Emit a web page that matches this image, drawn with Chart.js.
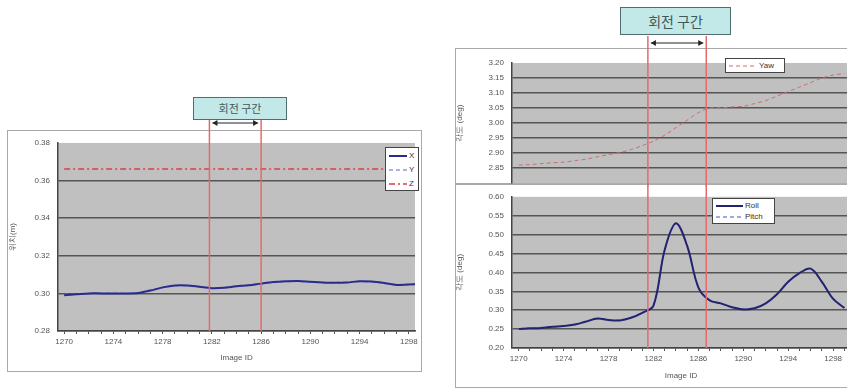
<!DOCTYPE html>
<html>
<head>
<meta charset="utf-8">
<script src="https://cdn.jsdelivr.net/npm/chart.js@4.4.1/dist/chart.umd.min.js"></script>
<style>
  body { margin: 0; width: 847px; height: 389px; overflow: hidden; background: #fff; position: relative; font-family: "Liberation Sans", Arial, sans-serif; }
  .frame { position: absolute; border: 1px solid #a9a9a9; box-sizing: border-box; }
  canvas { position: absolute; z-index: 2; }
  .tag { position: absolute; background: #c2e8e8; border: 1px solid #4f6d70; box-sizing: border-box; text-align: center; font-family: "Noto Sans CJK KR", sans-serif; color: #3d5a5e; z-index: 3; }
  .legend { position: absolute; background: #fff; border: 1px solid #444; box-sizing: border-box; font-size: 8px; color: #333; z-index: 3; }
  .legend div { position: absolute; height: 10px; line-height: 10px; white-space: nowrap; }
  .legend svg { vertical-align: middle; margin-right: 2px; }
</style>
</head>
<body>
<div class="frame" style="left:7px;top:130px;width:415px;height:242px"></div>
<div class="frame" style="left:455px;top:48px;width:400px;height:137px"></div>
<div class="frame" style="left:455px;top:183px;width:400px;height:205px"></div>

<canvas id="posChart" width="414" height="277" style="left:8px;top:95px"></canvas>
<canvas id="yawChart" width="397" height="160" style="left:455px;top:36px"></canvas>
<canvas id="rpChart" width="397" height="203" style="left:455px;top:184px"></canvas>

<div class="tag" style="left:193px;top:97px;width:94px;height:23px;font-size:11px;line-height:21px">회전 구간</div>
<div class="tag" style="left:620px;top:7px;width:111px;height:28px;font-size:14px;line-height:26px">회전 구간</div>

<div class="legend" style="left:385px;top:147px;width:34px;height:44px">
  <div style="left:3px;top:3px"><svg width="18" height="4"><line x1="0" y1="2" x2="18" y2="2" stroke="#2b2b8c" stroke-width="2"/></svg>X</div>
  <div style="left:3px;top:17px"><svg width="18" height="4"><line x1="0" y1="2" x2="18" y2="2" stroke="#8c9be2" stroke-width="1.5" stroke-dasharray="4 3"/></svg>Y</div>
  <div style="left:3px;top:31px"><svg width="18" height="4"><line x1="0" y1="2" x2="18" y2="2" stroke="#e03c3c" stroke-width="1.5" stroke-dasharray="6 3 2 3"/></svg>Z</div>
</div>
<div class="legend" style="left:725px;top:58px;width:60px;height:15px">
  <div style="left:3px;top:2px"><svg width="26" height="4"><line x1="0" y1="2" x2="26" y2="2" stroke="#c87070" stroke-width="1" stroke-dasharray="4 3"/></svg> Yaw</div>
</div>
<div class="legend" style="left:712px;top:198px;width:63px;height:26px">
  <div style="left:3px;top:2px"><svg width="27" height="4"><line x1="0" y1="2" x2="27" y2="2" stroke="#23236f" stroke-width="2"/></svg>Roll</div>
  <div style="left:3px;top:13px"><svg width="27" height="4"><line x1="0" y1="2" x2="27" y2="2" stroke="#7f8fe0" stroke-width="1.5" stroke-dasharray="4 3"/></svg>Pitch</div>
</div>

<script>
// image ids on the x axis
const imageIds = [1270, 1271, 1272, 1273, 1274, 1275, 1276, 1277, 1278, 1279,
  1280, 1281, 1282, 1283, 1284, 1285, 1286, 1287, 1288, 1289,
  1290, 1291, 1292, 1293, 1294, 1295, 1296, 1297, 1298, 1299];
const xLabelIds = [1270, 1274, 1278, 1282, 1286, 1290, 1294, 1298];

// position (left chart)
const posX = [0.2990, 0.2995, 0.3000, 0.3000, 0.3000, 0.3000, 0.3002, 0.3015, 0.3032, 0.3042,
  0.3042, 0.3035, 0.3028, 0.3030, 0.3038, 0.3043, 0.3052, 0.3060, 0.3064, 0.3066,
  0.3062, 0.3058, 0.3056, 0.3058, 0.3065, 0.3063, 0.3055, 0.3045, 0.3048, 0.3050];
const posY = [0.2993, 0.2996, 0.2998, 0.3001, 0.3002, 0.3000, 0.3004, 0.3018, 0.3030, 0.3040,
  0.3040, 0.3033, 0.3027, 0.3032, 0.3040, 0.3045, 0.3050, 0.3058, 0.3062, 0.3064,
  0.3060, 0.3057, 0.3058, 0.3060, 0.3063, 0.3060, 0.3052, 0.3047, 0.3050, 0.3052];
const posZ = [0.3662, 0.3662, 0.3662, 0.3662, 0.3662, 0.3662, 0.3662, 0.3662, 0.3662, 0.3662,
  0.3662, 0.3662, 0.3662, 0.3662, 0.3662, 0.3662, 0.3662, 0.3662, 0.3662, 0.3662,
  0.3662, 0.3662, 0.3662, 0.3662, 0.3662, 0.3662, 0.3662, 0.3662, 0.3662, 0.3662];
const posTicks = [0.28, 0.30, 0.32, 0.34, 0.36, 0.38];

// angles (right charts)
const yaw = [2.860, 2.862, 2.865, 2.868, 2.870, 2.875, 2.880, 2.888, 2.895, 2.902,
  2.912, 2.925, 2.940, 2.960, 2.985, 3.010, 3.035, 3.050, 3.051, 3.054,
  3.056, 3.065, 3.075, 3.090, 3.105, 3.120, 3.135, 3.150, 3.160, 3.165];
const yawTicks = [2.85, 2.90, 2.95, 3.00, 3.05, 3.10, 3.15, 3.20];
const roll = [0.250, 0.252, 0.253, 0.256, 0.258, 0.262, 0.270, 0.278, 0.274, 0.273,
  0.280, 0.293, 0.312, 0.460, 0.530, 0.470, 0.360, 0.326, 0.318, 0.308,
  0.302, 0.305, 0.318, 0.342, 0.375, 0.398, 0.410, 0.375, 0.330, 0.306];
const pitch = [0.251, 0.252, 0.254, 0.256, 0.259, 0.263, 0.271, 0.277, 0.275, 0.274,
  0.281, 0.294, 0.313, 0.458, 0.528, 0.469, 0.361, 0.327, 0.317, 0.307,
  0.303, 0.306, 0.319, 0.343, 0.376, 0.399, 0.409, 0.374, 0.331, 0.307];
const rpTicks = [0.20, 0.25, 0.30, 0.35, 0.40, 0.45, 0.50, 0.55, 0.60];

// rotation interval (회전 구간) as read on each chart
const leftSpan = [1281.8, 1286.0];
const rightSpan = [1281.5, 1286.7];

const pts = (arr) => arr.map((v, i) => ({ x: imageIds[i], y: v }));
const tickFont = { family: "Liberation Sans, Arial, sans-serif", size: 8 };
const gridDark = "#555";

// grey plot area
const plotBg = {
  id: "plotBg",
  beforeDraw(chart) {
    const { ctx, chartArea: a } = chart;
    ctx.save();
    ctx.fillStyle = "#c0c0c0";
    ctx.fillRect(a.left, a.top, a.right - a.left, a.bottom - a.top);
    ctx.restore();
  },
};

// red lines for the rotation interval, with the double arrow
const spanLines = {
  id: "spanLines",
  afterDatasetsDraw(chart, args, opts) {
    if (!opts.range) return;
    const { ctx, chartArea, scales } = chart;
    const x1 = scales.x.getPixelForValue(opts.range[0]);
    const x2 = scales.x.getPixelForValue(opts.range[1]);
    const bottom = chartArea.bottom + (opts.below || 0);
    ctx.save();
    ctx.strokeStyle = "#e36b6b";
    ctx.lineWidth = 1.5;
    [x1, x2].forEach((x) => {
      ctx.beginPath();
      ctx.moveTo(x, opts.top || 0);
      ctx.lineTo(x, bottom);
      ctx.stroke();
    });
    if (opts.arrowY != null) {
      const y = opts.arrowY, a = x1 + 3, b = x2 - 3;
      ctx.strokeStyle = "#222";
      ctx.fillStyle = "#222";
      ctx.lineWidth = 1;
      ctx.beginPath();
      ctx.moveTo(a, y);
      ctx.lineTo(b, y);
      ctx.stroke();
      ctx.beginPath();
      ctx.moveTo(a, y); ctx.lineTo(a + 5, y - 3); ctx.lineTo(a + 5, y + 3); ctx.closePath();
      ctx.moveTo(b, y); ctx.lineTo(b - 5, y - 3); ctx.lineTo(b - 5, y + 3); ctx.closePath();
      ctx.fill();
    }
    ctx.restore();
  },
};

function xScale(min, max, show, height) {
  return {
    type: "linear",
    min: min,
    max: max,
    display: show,
    afterFit: (s) => { s.height = height; },
    afterBuildTicks: (s) => { s.ticks = imageIds.filter((v) => v >= min && v <= max).map((v) => ({ value: v })); },
    grid: { drawOnChartArea: false, tickLength: 3, color: "#555" },
    border: { color: "#444", width: 1.5 },
    ticks: {
      autoSkip: false,
      maxRotation: 0,
      padding: 3,
      color: "#555",
      font: tickFont,
      callback: (v) => (xLabelIds.includes(v) ? String(v) : ""),
    },
    title: { display: show, text: "Image ID", color: "#555", font: tickFont, padding: 2 },
  };
}

function yScale(min, max, ticks, title, width) {
  return {
    min: min,
    max: max,
    afterFit: (s) => { s.width = width; },
    afterBuildTicks: (s) => { s.ticks = ticks.map((v) => ({ value: v })); },
    grid: {
      drawTicks: false,
      lineWidth: 1.5,
      color: (c) => (c.tick && Math.abs(c.tick.value - max) < 1e-9 ? "rgba(0,0,0,0)" : gridDark),
    },
    border: { color: "#444", width: 1.5 },
    ticks: { padding: 8, color: "#555", font: tickFont, callback: (v) => v.toFixed(2) },
    title: { display: true, text: title, color: "#555", font: tickFont, padding: 0 },
  };
}

const common = {
  responsive: false,
  animation: false,
  plugins: { legend: { display: false }, tooltip: { enabled: false } },
  elements: { point: { radius: 0 } },
};

// left chart: position
new Chart(document.getElementById("posChart"), {
  type: "line",
  data: {
    datasets: [
      { label: "X", data: pts(posX), borderColor: "#2b2b8c", borderWidth: 2, tension: 0.3 },
      { label: "Y", data: pts(posY), borderColor: "#8c9be2", borderWidth: 1.5, borderDash: [4, 3], tension: 0.3 },
      { label: "Z", data: pts(posZ), borderColor: "#e03c3c", borderWidth: 1.5, borderDash: [6, 3, 2, 3] },
    ],
  },
  options: {
    ...common,
    layout: { padding: { left: 0, top: 48, right: 7, bottom: 7 } },
    scales: {
      x: xScale(1269.5, 1298.5, true, 34),
      y: yScale(0.28, 0.38, posTicks, "위치(m)", 50),
    },
    plugins: { ...common.plugins, spanLines: { range: leftSpan, top: 25, arrowY: 28 } },
  },
  plugins: [plotBg, spanLines],
});

// right top: yaw
new Chart(document.getElementById("yawChart"), {
  type: "line",
  data: {
    datasets: [
      { label: "Yaw", data: pts(yaw), borderColor: "#c87070", borderWidth: 1, borderDash: [4, 3], tension: 0.3 },
    ],
  },
  options: {
    ...common,
    layout: { padding: { left: 0, top: 27, right: 2, bottom: 1 } },
    scales: {
      x: xScale(1269.4, 1299.5, false, 0),
      y: yScale(2.8, 3.2, yawTicks, "각도 (deg)", 57),
    },
    plugins: { ...common.plugins, spanLines: { range: rightSpan, top: 0, arrowY: 7, below: 3 } },
  },
  plugins: [plotBg, spanLines],
});

// right bottom: roll / pitch
new Chart(document.getElementById("rpChart"), {
  type: "line",
  data: {
    datasets: [
      { label: "Roll", data: pts(roll), borderColor: "#23236f", borderWidth: 2, tension: 0.35 },
      { label: "Pitch", data: pts(pitch), borderColor: "#7f8fe0", borderWidth: 1.5, borderDash: [4, 3], tension: 0.35 },
    ],
  },
  options: {
    ...common,
    layout: { padding: { left: 0, top: 9, right: 2, bottom: 4 } },
    scales: {
      x: xScale(1269.4, 1299.5, true, 35),
      y: yScale(0.2, 0.6, rpTicks, "각도 (deg)", 57),
    },
    plugins: { ...common.plugins, spanLines: { range: rightSpan, top: 0 } },
  },
  plugins: [plotBg, spanLines],
});
</script>
</body>
</html>
